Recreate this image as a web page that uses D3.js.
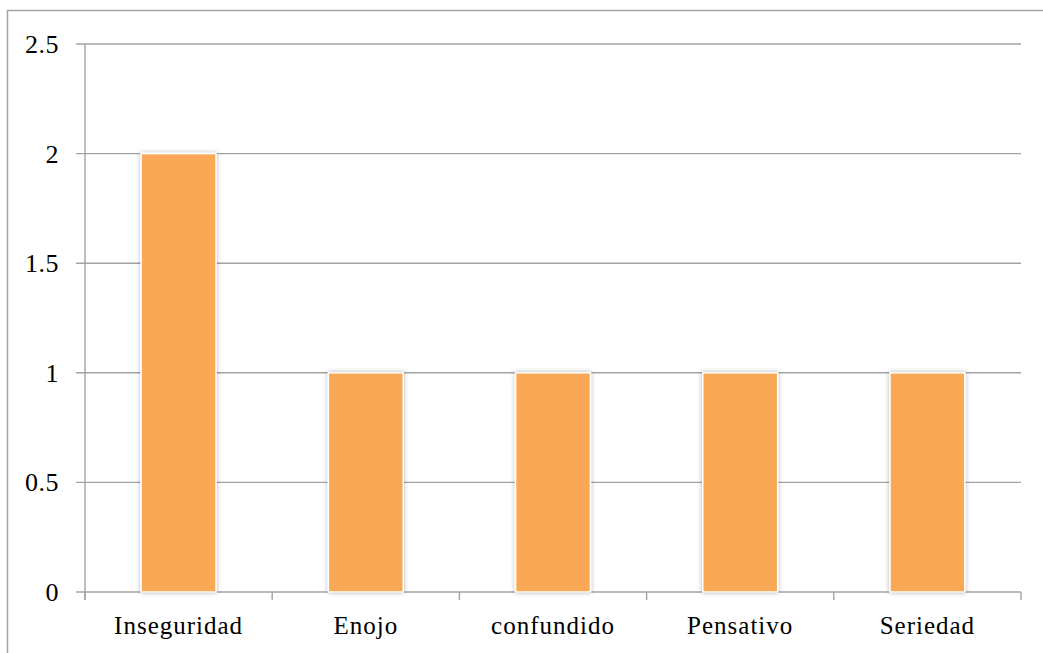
<!DOCTYPE html>
<html><head><meta charset="utf-8">
<script src="https://cdn.jsdelivr.net/npm/d3@7"></script>
<style>body{margin:0;background:#fff}svg{display:block}</style>
</head><body><svg id="c" width="1043" height="653"></svg>
<script>
const categories = ["Inseguridad","Enojo","confundido","Pensativo","Seriedad"];
const values = [2,1,1,1,1];
const yTicks = [0,0.5,1,1.5,2,2.5];
const yTickLabels = ["0","0.5","1","1.5","2","2.5"];

const svg = d3.select("#c");
const L=85, R=1021, T=44, B=592;
const grid="#a3a3a3";
const font="'Liberation Serif', serif";

const defs = svg.append("defs");
const f = defs.append("filter").attr("id","sh").attr("x","-20%").attr("y","-5%").attr("width","140%").attr("height","110%");
f.append("feGaussianBlur").attr("in","SourceAlpha").attr("stdDeviation",2.5).attr("result","b");
f.append("feComponentTransfer").attr("in","b").attr("result","b2").append("feFuncA").attr("type","linear").attr("slope",0.3);
const m=f.append("feMerge"); m.append("feMergeNode").attr("in","b2"); m.append("feMergeNode").attr("in","SourceGraphic");

// outer border (top and left)
svg.append("path").attr("d","M7.5,653 L7.5,10.5 L1043,10.5").attr("fill","none").attr("stroke",grid).attr("stroke-width",1.5);

const y = d3.scaleLinear().domain([0,2.5]).range([B,T]);
const x = d3.scaleBand().domain(categories).range([L,R]).paddingInner(0.6).paddingOuter(0.3);
const xb = d3.scaleBand().domain(categories).range([L,R]);

// gridlines
svg.append("g").selectAll("line").data(yTicks).join("line")
  .attr("x1",L-9).attr("x2",R).attr("y1",d=>y(d)).attr("y2",d=>y(d))
  .attr("stroke",grid).attr("stroke-width",1.4);
// y axis line
svg.append("line").attr("x1",L).attr("x2",L).attr("y1",T).attr("y2",B+8).attr("stroke",grid).attr("stroke-width",1.4);
// x ticks
const bounds = categories.map(c=>xb(c)).concat([R]);
svg.append("g").selectAll("line").data(bounds).join("line")
  .attr("x1",d=>d).attr("x2",d=>d).attr("y1",B).attr("y2",B+8)
  .attr("stroke",grid).attr("stroke-width",1.4);

// y labels
svg.append("g").selectAll("text").data(yTicks).join("text")
  .attr("x",59).attr("y",d=>y(d)+9).attr("text-anchor","end")
  .attr("font-family",font).attr("font-size",26).attr("letter-spacing",0.5).attr("fill","#000")
  .text((d,i)=>yTickLabels[i]);

// bars
svg.append("g").selectAll("rect").data(values).join("rect")
  .attr("x",(d,i)=>x(categories[i])).attr("width",x.bandwidth())
  .attr("y",d=>y(d)).attr("height",d=>B-y(d))
  .attr("fill","#F9A857").attr("stroke","#fff").attr("stroke-width",1.5)
  .attr("filter","url(#sh)");

// x labels
svg.append("g").selectAll("text").data(categories).join("text")
  .attr("x",d=>xb(d)+xb.bandwidth()/2).attr("y",634).attr("text-anchor","middle")
  .attr("font-family",font).attr("font-size",25).attr("letter-spacing",1).attr("fill","#000").text(d=>d);
</script></body></html>
